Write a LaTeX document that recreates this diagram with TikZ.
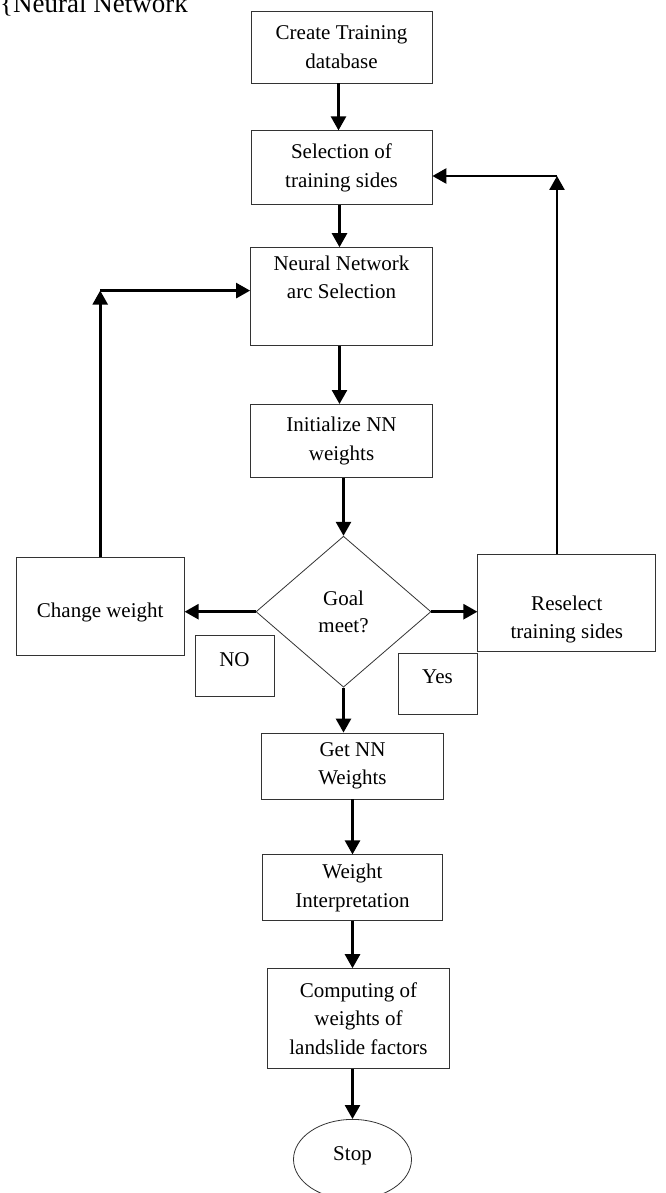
\documentclass[tikz,border=0pt]{standalone}
\usepackage{fontspec}
\setmainfont{Liberation Serif}
\usepackage{xcolor}
\usepackage{tikz}
\usetikzlibrary{
    shapes.geometric,
    arrows.meta,
    positioning,
    calc
}
\definecolor{fcline}{HTML}{333333}
\definecolor{fcink}{HTML}{000000}
\tikzset{
    % Plain flow box
    fcbox/.style={
        rectangle,
        draw=fcline,
        line width=0.8pt,
        fill=white,
        text=fcink,
        font=\fontsize{21pt}{28.5pt}\selectfont,
        align=center,
        inner sep=0pt
    },
    % Decision diamond
    fcdecision/.style={
        diamond,
        draw=fcline,
        line width=0.8pt,
        fill=white,
        text=fcink,
        font=\fontsize{21pt}{27.5pt}\selectfont,
        minimum width=175pt,
        minimum height=151pt,
        align=center,
        inner sep=0pt
    },
    % Small answer tag
    fctag/.style={
        fcbox,
        minimum width=79pt,
        minimum height=61pt
    },
    % End node
    fcstop/.style={
        ellipse,
        draw=fcline,
        line width=0.8pt,
        text=fcink,
        font=\fontsize{21pt}{25pt}\selectfont,
        minimum width=118pt,
        minimum height=80pt,
        inner sep=0pt
    },
    % Arrow style
    fcarrow/.style={
        -{Triangle[length=14pt,width=15pt]},
        line width=2.6pt,
        color=#1
    },
    fcarrow/.default=fcink
}
\begin{document}
\begin{tikzpicture}[x=1pt, y=1pt, node distance=47pt]
    \clip (0,0) rectangle (665,-1193);
    \node[anchor=base west, font=\fontsize{27pt}{30pt}\selectfont, inner sep=0pt] (fc-title) at (0,-13) {\{Neural Network};

    % main column
    \node[fcbox, minimum width=181pt, minimum height=72pt] (fc-create) at (341.5,-47) {Create Training\\database};
    \node[fcbox, minimum width=181pt, minimum height=74pt, below=47pt of fc-create] (fc-select) {Selection of\\training sides};
    \node[fcbox, minimum width=182pt, text height=51pt, text depth=47pt, below=42pt of fc-select] (fc-nnarc) {Neural Network\\arc Selection};
    \node[fcbox, minimum width=182pt, minimum height=73pt, below=58pt of fc-nnarc] (fc-init) {Initialize NN\\weights};
    \node[fcdecision, below=58pt of fc-init, xshift=2pt] (fc-goal) {Goal\\meet?};

    % side branches
    \node[fcbox, minimum width=168pt, text height=60pt, text depth=38pt, left=71pt of fc-goal, yshift=5pt] (fc-change) {Change weight};
    \node[fcbox, minimum width=178pt, text height=84pt, text depth=13pt, right=46pt of fc-goal, yshift=8.5pt] (fc-resel) {Reselect\\training sides};
    \node[fctag, text height=31pt, text depth=30pt, minimum height=0pt] (fc-no) at (234.5,-665.5) {NO};
    \node[fctag, text height=30pt, text depth=31pt, minimum height=0pt] (fc-yes) at (437.5,-683.5) {Yes};

    \node[fcbox, minimum width=182pt, minimum height=66pt, below=45pt of fc-goal, xshift=9pt] (fc-getnn) {Get NN\\Weights};
    \node[fcbox, minimum width=180pt, minimum height=66pt, below=55pt of fc-getnn] (fc-interp) {Weight\\Interpretation};
    \node[fcbox, minimum width=182pt, minimum height=100pt, below=47pt of fc-interp, xshift=6pt] (fc-comp) {Computing of\\weights of\\landslide factors};
    \node[fcstop, text height=14pt, text depth=12pt, below=50pt of fc-comp, xshift=-6pt] (fc-stop) {Stop};

    % loop corners
    \coordinate (fc-cwturn) at ([yshift=6pt]fc-nnarc.west -| fc-change.north);
    \coordinate (fc-rsturn) at (557,-176);

    \draw[fcarrow] ([xshift=-3pt]fc-create.south) -- ([xshift=-3pt]fc-select.north);
    \draw[fcarrow] ([xshift=-2pt]fc-select.south) -- ([xshift=-2pt]fc-nnarc.north);
    \draw[fcarrow] ([xshift=-2pt]fc-nnarc.south) -- ([xshift=-2pt]fc-init.north);
    \draw[fcarrow] (fc-init.south -| fc-goal.north) -- (fc-goal.north);
    \draw[fcarrow] (fc-goal.west) -- (fc-goal.west -| fc-change.east);
    \draw[fcarrow] (fc-goal.east) -- (fc-goal.east -| fc-resel.west);
    \draw[fcarrow] (fc-goal.south) -- (fc-goal.south |- fc-getnn.north);
    \draw[fcarrow] (fc-getnn) -- (fc-interp);
    \draw[fcarrow] (fc-interp.south) -- (fc-interp.south |- fc-comp.north);
    \draw[fcarrow] (fc-stop.north |- fc-comp.south) -- (fc-stop.north);

    \draw[fcarrow] (fc-change.north) -- (fc-cwturn);
    \draw[fcarrow] (fc-cwturn) -- (fc-cwturn -| fc-nnarc.west);
    \draw[fcarrow] (fc-rsturn |- fc-resel.north) -- (fc-rsturn);
    \draw[fcarrow] (fc-rsturn) -- (fc-rsturn -| fc-select.east);
\end{tikzpicture}
\end{document}
